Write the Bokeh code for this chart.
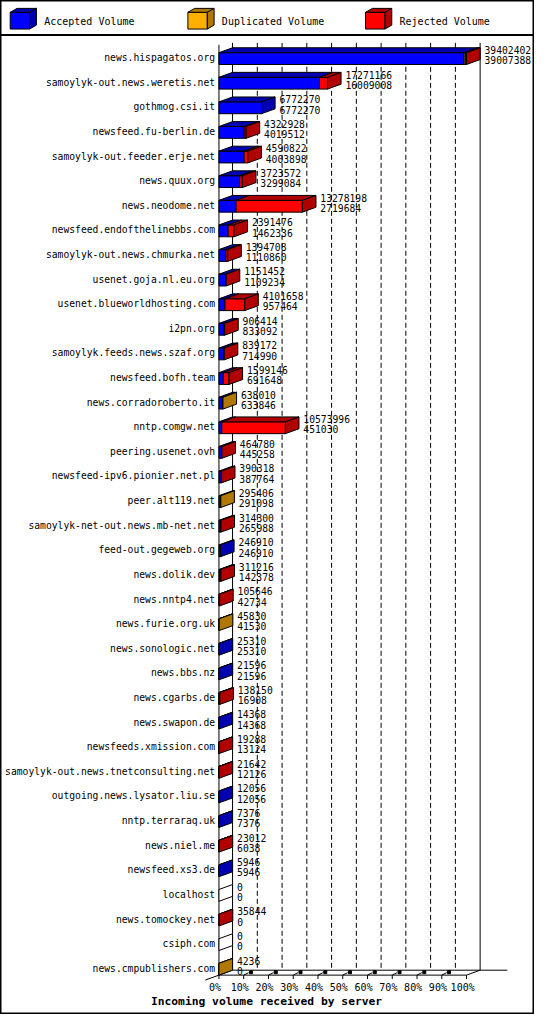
from bokeh.plotting import figure
from bokeh.models import Range1d, ColumnDataSource
from bokeh.core.properties import value
from bokeh.embed import file_html
from bokeh.resources import INLINE

# ---------------- data ----------------
servers = [
    "news.hispagatos.org", "samoylyk-out.news.weretis.net", "gothmog.csi.it",
    "newsfeed.fu-berlin.de", "samoylyk-out.feeder.erje.net", "news.quux.org",
    "news.neodome.net", "newsfeed.endofthelinebbs.com", "samoylyk-out.news.chmurka.net",
    "usenet.goja.nl.eu.org", "usenet.blueworldhosting.com", "i2pn.org",
    "samoylyk.feeds.news.szaf.org", "newsfeed.bofh.team", "news.corradoroberto.it",
    "nntp.comgw.net", "peering.usenet.ovh", "newsfeed-ipv6.pionier.net.pl",
    "peer.alt119.net", "samoylyk-net-out.news.mb-net.net", "feed-out.gegeweb.org",
    "news.dolik.dev", "news.nntp4.net", "news.furie.org.uk", "news.sonologic.net",
    "news.bbs.nz", "news.cgarbs.de", "news.swapon.de", "newsfeeds.xmission.com",
    "samoylyk-out.news.tnetconsulting.net", "outgoing.news.lysator.liu.se",
    "nntp.terraraq.uk", "news.niel.me", "newsfeed.xs3.de", "localhost",
    "news.tomockey.net", "csiph.com", "news.cmpublishers.com",
]
offered = [
    39402402, 17271166, 6772270, 4322928, 4590822, 3723572, 13278198, 2391476,
    1394708, 1151452, 4101658, 906414, 839172, 1599146, 638010, 10573996,
    464780, 390318, 295406, 314300, 246910, 311216, 105646, 45830, 25310,
    21596, 138150, 14368, 19288, 21642, 12056, 7376, 23012, 5946, 0, 35844, 0, 4236,
]
accepted = [
    39007388, 16009008, 6772270, 4019512, 4003898, 3299084, 2719684, 1462336,
    1110860, 1109234, 957464, 833092, 714990, 691648, 633846, 451030,
    445258, 387764, 291098, 265988, 246910, 142378, 42734, 41530, 25310,
    21596, 16908, 14368, 13124, 12126, 12056, 7376, 6038, 5946, 0, 0, 0, 0,
]
duplicated = [
    200000, 0, 0, 0, 0, 0, 0, 0, 0, 0, 0, 0, 0, 0, 4164, 0,
    0, 0, 4308, 0, 0, 0, 0, 4300, 0, 0, 0, 0, 0, 0, 0, 0, 0, 0, 0, 0, 0, 4236,
]
rejected = [o - a - d for o, a, d in zip(offered, accepted, duplicated)]

series_names = ["Accepted Volume", "Duplicated Volume", "Rejected Volume"]
series_colors = ["#0000FF", "#FFAF00", "#FF0000"]
series_dark = ["#0000B0", "#B07800", "#B00000"]
pct_ticks = [0, 10, 20, 30, 40, 50, 60, 70, 80, 90, 100]
pct_labels = ["0%", "10%", "20%", "30%", "40%", "50%", "60%", "70%", "80%", "90%", "100%"]
title_text = "Incoming volume received by server"

# ---------------- layout (reference pixel space) ----------------
W, H = 534, 1014
REF_W, REF_H = 550, 1030
X0, FULL = 225.0, 255.0      # front 0% position and length of 100%
Y0, PITCH = 59.0, 25.0       # first row centre and row pitch
vmax = max(offered)

def xv(px):
    return (px - X0) / FULL * vmax

def yv(py):
    return (py - Y0) / PITCH

def dxp(px):
    return px / FULL * vmax

def dyp(py):
    return py / PITCH

DX, DY = dxp(14), dyp(5)
HALF = dyp(6)
MONO = value("DejaVu Sans Mono")

p = figure(width=W, height=H,
           x_range=Range1d(xv(0), xv(REF_W)),
           y_range=Range1d(yv(REF_H), yv(0)),
           output_backend="svg", toolbar_location=None,
           x_axis_location=None, y_axis_location=None,
           min_border=0, min_border_left=0, min_border_right=0,
           min_border_top=0, min_border_bottom=0)
p.grid.visible = False
p.background_fill_color = "white"
p.border_fill_color = "white"
p.outline_line_color = "black"
p.outline_line_width = 2

# ---------------- legend ----------------
p.segment(x0=[xv(0)], y0=[yv(35)], x1=[xv(REF_W)], y1=[yv(35)], line_color="black", line_width=2)
leg_x = [xv(10 + 183 * k) for k in range(3)]
lf = dict(left=[], right=[], top=[], bottom=[], color=[])
lt = dict(xs=[], ys=[], color=[])
for k in range(3):
    a, b = leg_x[k], leg_x[k] + dxp(20)
    t, bt = yv(12), yv(29)
    lf["left"].append(a); lf["right"].append(b); lf["top"].append(t); lf["bottom"].append(bt)
    lf["color"].append(series_colors[k])
    lt["xs"].append([a, b, b + dxp(7), a + dxp(7)]); lt["ys"].append([t, t, t - dyp(4), t - dyp(4)])
    lt["color"].append(series_dark[k])
    lt["xs"].append([b, b + dxp(7), b + dxp(7), b]); lt["ys"].append([t, t - dyp(4), bt - dyp(4), bt])
    lt["color"].append(series_dark[k])
p.quad(left="left", right="right", top="top", bottom="bottom", fill_color="color",
       line_color="black", line_width=1, source=ColumnDataSource(lf))
p.patches(xs="xs", ys="ys", fill_color="color", line_color="black", line_width=1,
          source=ColumnDataSource(lt))
p.text(x=[lx + dxp(35) for lx in leg_x], y=[yv(21)] * 3, text=series_names,
       text_font=MONO, text_font_size=value("10px"), text_baseline="middle",
       text_align="left", text_color="black")

# ---------------- walls, grid, floor ----------------
y_top_wall, y_back_floor, y_front_floor = yv(43), yv(985), yv(990)
grid_x = [t / 100 * vmax + DX for t in pct_ticks[1:-1]]
p.segment(x0=grid_x, y0=[y_top_wall] * len(grid_x), x1=grid_x, y1=[y_back_floor] * len(grid_x),
          line_color="black", line_width=1, line_dash="5 3")
p.segment(x0=[DX, vmax + DX], y0=[y_top_wall] * 2, x1=[DX, vmax + DX], y1=[y_back_floor] * 2,
          line_color="black", line_width=1)
p.segment(x0=[0], y0=[yv(45)], x1=[0], y1=[y_front_floor], line_color="black", line_width=1)
p.segment(x0=[DX, 0, vmax, -DX], y0=[y_back_floor, y_front_floor, y_front_floor, y_front_floor + DY],
          x1=[vmax + DX + dxp(28), vmax, vmax + DX, DX],
          y1=[y_back_floor, y_front_floor, y_back_floor, y_back_floor],
          line_color="black", line_width=1)
tick_x = [t / 100 * vmax for t in pct_ticks]
p.segment(x0=tick_x, y0=[y_front_floor] * len(tick_x), x1=tick_x, y1=[yv(994)] * len(tick_x),
          line_color="black", line_width=1)
mid_x = tick_x[1:-1]
p.segment(x0=mid_x, y0=[y_front_floor] * len(mid_x), x1=[x + dxp(5) for x in mid_x],
          y1=[yv(987.5)] * len(mid_x), line_color="black", line_width=1)
p.scatter(x=[x + dxp(7.5) for x in mid_x], y=[yv(987)] * len(mid_x), marker="square",
          size=3, fill_color="black", line_color="black")
p.text(x=[x - dxp(4) for x in tick_x], y=[yv(1003)] * len(tick_x), text=pct_labels,
       text_font=MONO, text_font_size=value("10px"), text_baseline="middle",
       text_align="center", text_color="black")

# ---------------- 3D bars ----------------
seg_vals = [accepted, duplicated, rejected]
fq = dict(left=[], right=[], top=[], bottom=[], color=[])
tp = dict(xs=[], ys=[], color=[])
sd = dict(xs=[], ys=[], color=[])
for r in range(len(servers)):
    start, last = 0, None
    yt, yb = r - HALF, r + HALF
    for k in range(3):
        v = seg_vals[k][r]
        if v > 0:
            a, b = start, start + v
            fq["left"].append(a); fq["right"].append(b)
            fq["top"].append(yt); fq["bottom"].append(yb)
            fq["color"].append(series_colors[k])
            tp["xs"].append([a, b, b + DX, a + DX]); tp["ys"].append([yt, yt, yt - DY, yt - DY])
            tp["color"].append(series_dark[k])
            start, last = b, k
    e = start
    sd["xs"].append([e, e + DX, e + DX, e]); sd["ys"].append([yt, yt - DY, yb - DY, yb])
    sd["color"].append(series_dark[last] if last is not None else "white")
p.quad(left="left", right="right", top="top", bottom="bottom", fill_color="color",
       line_color="black", line_width=1, source=ColumnDataSource(fq))
p.patches(xs="xs", ys="ys", fill_color="color", line_color="black", line_width=1,
          source=ColumnDataSource(tp))
p.patches(xs="xs", ys="ys", fill_color="color", line_color="black", line_width=1,
          source=ColumnDataSource(sd))

# ---------------- texts ----------------
rows = list(range(len(servers)))
p.text(x=[xv(221)] * len(servers), y=[r - dyp(1) for r in rows], text=servers,
       text_font=MONO, text_font_size=value("9.7px"), text_baseline="middle",
       text_align="right", text_color="black")
num_x = [o + dxp(18.5) for o in offered]
p.text(x=num_x, y=[r - dyp(8.75) for r in rows], text=[str(v) for v in offered],
       text_font=MONO, text_font_size=value("9.7px"), text_baseline="middle",
       text_align="left", text_color="black")
p.text(x=num_x, y=[r + dyp(1.75) for r in rows], text=[str(v) for v in accepted],
       text_font=MONO, text_font_size=value("9.7px"), text_baseline="middle",
       text_align="left", text_color="black")
p.text(x=[xv(274)], y=[yv(1017)], text=[title_text], text_font=MONO,
       text_font_size=value("11.3px"), text_font_style="bold", text_baseline="middle",
       text_align="center", text_color="black")

open("out.html", "w").write(file_html(p, INLINE))
